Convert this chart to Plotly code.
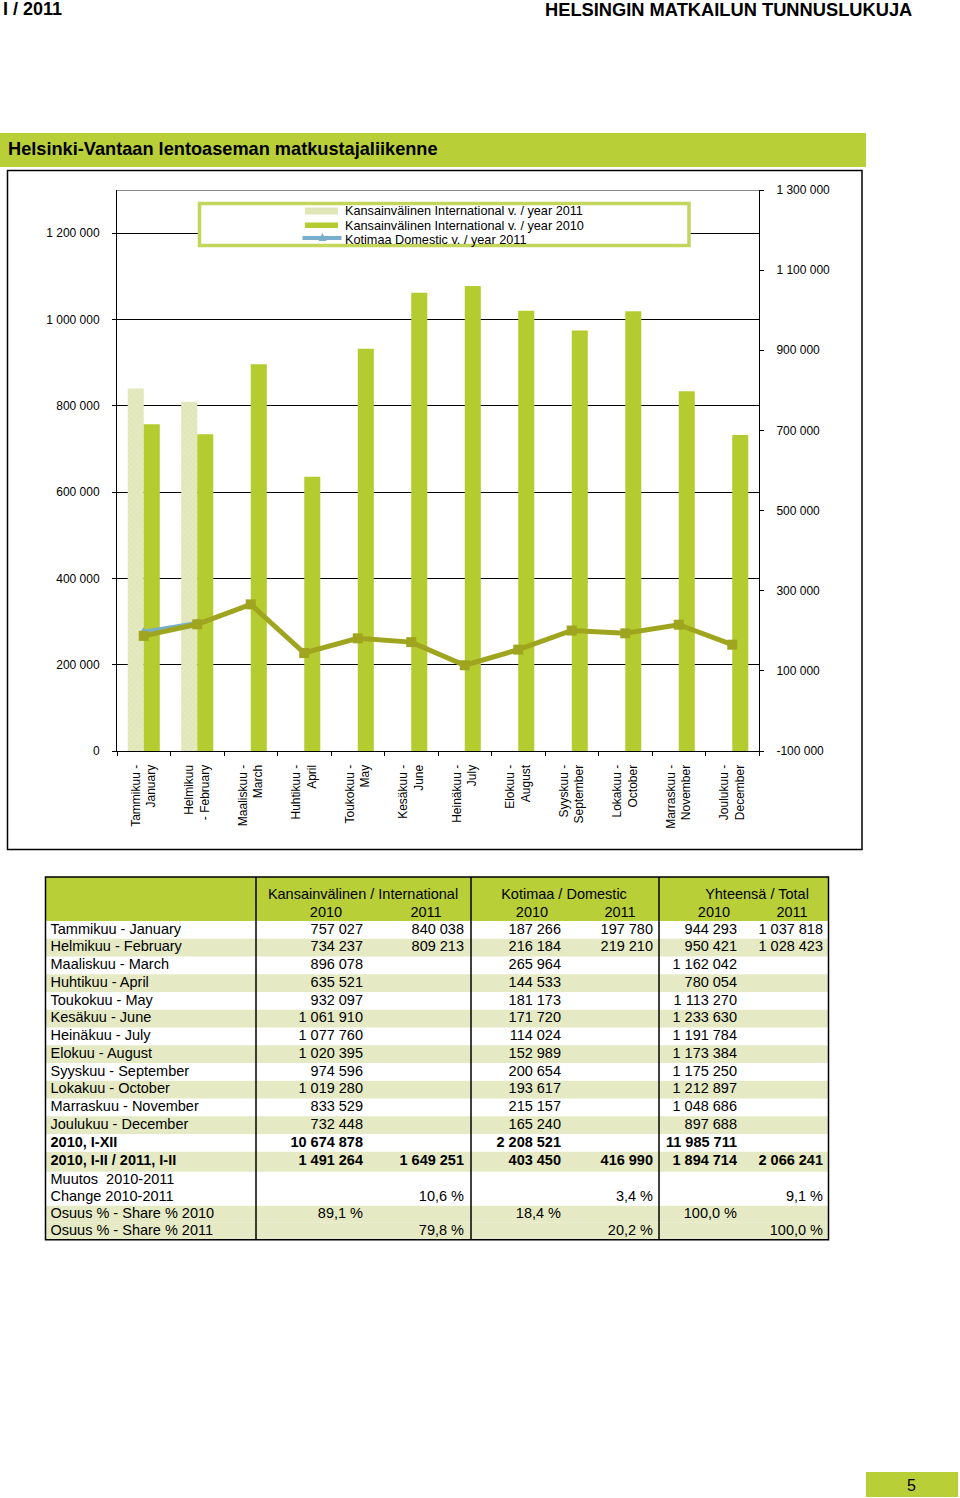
import plotly.graph_objects as go

W, H = 960, 1498

# ---------------- data ----------------
chart_labels = ["Tammikuu -<br>January", "Helmikuu<br>- February", "Maaliskuu -<br>March",
                "Huhtikuu -<br>April", "Toukokuu -<br>May", "Kesäkuu -<br>June",
                "Heinäkuu -<br>July", "Elokuu -<br>August", "Syyskuu -<br>September",
                "Lokakuu -<br>October", "Marraskuu -<br>November", "Joulukuu -<br>December"]
month_labels = ["Tammikuu - January", "Helmikuu - February", "Maaliskuu - March",
                "Huhtikuu - April", "Toukokuu - May", "Kesäkuu - June", "Heinäkuu - July",
                "Elokuu - August", "Syyskuu - September", "Lokakuu - October",
                "Marraskuu - November", "Joulukuu - December"]

intl_2010 = [757027, 734237, 896078, 635521, 932097, 1061910, 1077760, 1020395,
             974596, 1019280, 833529, 732448]
intl_2011 = [840038, 809213, None, None, None, None, None, None, None, None, None, None]
dom_2010 = [187266, 216184, 265964, 144533, 181173, 171720, 114024, 152989,
            200654, 193617, 215157, 165240]
dom_2011 = [197780, 219210, None, None, None, None, None, None, None, None, None, None]
tot_2010 = [944293, 950421, 1162042, 780054, 1113270, 1233630, 1191784, 1173384,
            1175250, 1212897, 1048686, 897688]
tot_2011 = [1037818, 1028423, None, None, None, None, None, None, None, None, None, None]

# summary rows: [intl 2010, intl 2011, dom 2010, dom 2011, tot 2010, tot 2011]
summary_labels = ["2010, I-XII", "2010, I-II / 2011, I-II", "Muutos  2010-2011",
                  "Change 2010-2011", "Osuus % - Share % 2010", "Osuus % - Share % 2011"]
year_total_2010 = [10674878, None, 2208521, None, 11985711, None]
jan_feb_totals = [1491264, 1649251, 403450, 416990, 1894714, 2066241]
muutos_row = [None, None, None, None, None, None]
change_pct = [None, 10.6, None, 3.4, None, 9.1]
share_2010 = [89.1, None, 18.4, None, 100.0, None]
share_2011 = [None, 79.8, None, 20.2, None, 100.0]

group_headers = ["Kansainvälinen / International", "Kotimaa / Domestic", "Yhteensä / Total"]
year_headers = ["2010", "2011", "2010", "2011", "2010", "2011"]

left_ticks = [0, 200000, 400000, 600000, 800000, 1000000, 1200000]
right_ticks = [-100000, 100000, 300000, 500000, 700000, 900000, 1100000, 1300000]

legend_labels = ["Kansainvälinen International v. / year 2011",
                 "Kansainvälinen International v. / year 2010",
                 "Kotimaa Domestic v. / year 2011"]

# ---------------- styles ----------------
FONT = "Arial, Liberation Sans, sans-serif"
GREEN = "#b4cc2f"
BAND = "#b8cf38"
PALE = "#e1e6b6"
OLIVE = "#9fa51e"
BLUE = "#78aecb"
SHADE = "#e5eac4"
LEGEND_BORDER = "#c3d55a"


def fx(p):
    return p / W


def fy(p):
    return 1 - p / H


def fmt_num(v):
    return "" if v is None else f"{v:,}".replace(",", " ")


def fmt_pct(v):
    return "" if v is None else f"{v:.1f}".replace(".", ",") + " %"


fig = go.Figure()

# ---------------- chart ----------------
fig.add_trace(go.Bar(x=chart_labels, y=intl_2011, name=legend_labels[0],
                     marker=dict(color=PALE, line=dict(width=0),
                                 pattern=dict(shape="x", size=4, solidity=0.25,
                                              fgcolor="#d2d99a", bgcolor="#e4e9c0")),
                     xaxis="x", yaxis="y", showlegend=False))
fig.add_trace(go.Bar(x=chart_labels, y=intl_2010, name=legend_labels[1],
                     marker=dict(color=GREEN, line=dict(width=0)),
                     xaxis="x", yaxis="y", showlegend=False))
fig.add_trace(go.Scatter(x=chart_labels, y=dom_2011, name=legend_labels[2], mode="lines+markers",
                         line=dict(color=BLUE, width=4),
                         marker=dict(symbol="triangle-up", size=9, color=BLUE),
                         xaxis="x", yaxis="y2", showlegend=False, cliponaxis=False))
fig.add_trace(go.Scatter(x=chart_labels, y=dom_2010, name="Kotimaa Domestic v. / year 2010",
                         mode="lines+markers",
                         line=dict(color=OLIVE, width=5),
                         marker=dict(symbol="square", size=10, color=OLIVE),
                         xaxis="x", yaxis="y2", showlegend=False, cliponaxis=False))

# ---------------- table ----------------
table_labels = month_labels + summary_labels
monthly_cols = [intl_2010, intl_2011, dom_2010, dom_2011, tot_2010, tot_2011]
table_cols = []
for c in range(6):
    col = [fmt_num(v) for v in monthly_cols[c]]
    col.append(fmt_num(year_total_2010[c]))
    col.append(fmt_num(jan_feb_totals[c]))
    col.append(fmt_pct(muutos_row[c]))
    col.append(fmt_pct(change_pct[c]))
    col.append(fmt_pct(share_2010[c]))
    col.append(fmt_pct(share_2011[c]))
    table_cols.append(col)

bold_rows = {12, 13}
shaded_rows = {1, 3, 5, 7, 9, 11, 13, 16, 17}
row_heights = [17.75] * 13 + [20, 17, 17, 17, 17]

T_LEFT, T_RIGHT, T_TOP, T_HEAD_BOTTOM = 45.5, 828.5, 877, 921.1
col_rights = [363, 464, 561, 653, 737, 823]
year_centers = [326, 426, 532, 620, 714, 792]
group_centers = [363, 564, 757]
vlines = [256, 471, 659]

row_tops = []
y = T_HEAD_BOTTOM
for h in row_heights:
    row_tops.append(y)
    y += h
T_BOTTOM = y
row_centers = [t + h / 2 for t, h in zip(row_tops, row_heights)]


def b(s, r):
    return f"<b>{s}</b>" if (r in bold_rows and s) else s


tfont = dict(family=FONT, size=14.5, color="#000000")
fig.add_trace(go.Scatter(x=[T_LEFT + 5] * len(table_labels), y=row_centers, mode="text",
                         text=[b(s, r) for r, s in enumerate(table_labels)],
                         textposition="middle right", textfont=tfont,
                         xaxis="x2", yaxis="y3", showlegend=False, hoverinfo="skip",
                         cliponaxis=False))
for c in range(6):
    fig.add_trace(go.Scatter(x=[col_rights[c]] * len(table_labels), y=row_centers, mode="text",
                             text=[b(s, r) for r, s in enumerate(table_cols[c])],
                             textposition="middle left", textfont=tfont,
                             xaxis="x2", yaxis="y3", showlegend=False, hoverinfo="skip",
                             cliponaxis=False))
fig.add_trace(go.Scatter(x=year_centers, y=[913] * 6, mode="text", text=year_headers,
                         textposition="middle center", textfont=tfont,
                         xaxis="x2", yaxis="y3", showlegend=False, hoverinfo="skip",
                         cliponaxis=False))
fig.add_trace(go.Scatter(x=group_centers, y=[895] * 3, mode="text", text=group_headers,
                         textposition="middle center", textfont=tfont,
                         xaxis="x2", yaxis="y3", showlegend=False, hoverinfo="skip",
                         cliponaxis=False))

shapes = []
# title band and chart frame
shapes.append(dict(type="rect", xref="paper", yref="paper", x0=fx(0), x1=fx(866), y0=fy(167),
                   y1=fy(133), fillcolor=BAND, line=dict(width=0), layer="below"))
shapes.append(dict(type="rect", xref="paper", yref="paper", x0=fx(7.5), x1=fx(862), y0=fy(849.5),
                   y1=fy(170.5), fillcolor="rgba(0,0,0,0)", line=dict(color="#000", width=1.5),
                   layer="below"))
shapes.append(dict(type="line", xref="paper", yref="paper", x0=fx(117), x1=fx(759), y0=fy(190.5),
                   y1=fy(190.5), line=dict(color="#8a8a8a", width=1), layer="above"))
# legend box
shapes.append(dict(type="rect", xref="paper", yref="paper", x0=fx(199.5), x1=fx(689), y0=fy(245.5),
                   y1=fy(203.5), fillcolor="white", line=dict(color=LEGEND_BORDER, width=3.5),
                   layer="above"))
shapes.append(dict(type="rect", xref="paper", yref="paper", x0=fx(305), x1=fx(338), y0=fy(214.5),
                   y1=fy(207.5), fillcolor=PALE, line=dict(width=0), layer="above"))
shapes.append(dict(type="rect", xref="paper", yref="paper", x0=fx(305), x1=fx(338), y0=fy(228),
                   y1=fy(222.5), fillcolor=GREEN, line=dict(width=0), layer="above"))
shapes.append(dict(type="line", xref="paper", yref="paper", x0=fx(302.5), x1=fx(341.5), y0=fy(238),
                   y1=fy(238), line=dict(color=BLUE, width=4), layer="above"))
shapes.append(dict(type="path", xref="paper", yref="paper",
                   path=f"M {fx(318.5)} {fy(241)} L {fx(326.5)} {fy(241)} L {fx(322.5)} {fy(233)} Z",
                   fillcolor=BLUE, line=dict(width=0), layer="above"))
# page number box
shapes.append(dict(type="rect", xref="paper", yref="paper", x0=fx(866), x1=fx(958), y0=fy(1497),
                   y1=fy(1472), fillcolor=BAND, line=dict(width=0), layer="below"))

# table fills and lines
shapes.append(dict(type="rect", xref="x2", yref="y3", x0=T_LEFT, x1=T_RIGHT, y0=T_TOP,
                   y1=T_HEAD_BOTTOM, fillcolor=BAND, line=dict(width=0), layer="below"))
for r in range(len(table_labels)):
    if r in shaded_rows:
        shapes.append(dict(type="rect", xref="x2", yref="y3", x0=T_LEFT, x1=T_RIGHT,
                           y0=row_tops[r], y1=row_tops[r] + row_heights[r], fillcolor=SHADE,
                           line=dict(width=0), layer="below"))
for vx in vlines:
    shapes.append(dict(type="line", xref="x2", yref="y3", x0=vx, x1=vx, y0=T_TOP, y1=T_BOTTOM,
                       line=dict(color="#000", width=1.5), layer="above"))
shapes.append(dict(type="rect", xref="x2", yref="y3", x0=T_LEFT, x1=T_RIGHT, y0=T_TOP,
                   y1=T_BOTTOM, fillcolor="rgba(0,0,0,0)", line=dict(color="#000", width=1.5),
                   layer="above"))

annotations = [
    dict(text="<b>I / 2011</b>", x=fx(2), y=fy(-2), xref="paper", yref="paper", xanchor="left",
         yanchor="top", showarrow=False, borderpad=0,
         font=dict(family=FONT, size=18, color="#000")),
    dict(text="<b>HELSINGIN MATKAILUN TUNNUSLUKUJA</b>", x=fx(913), y=fy(-2), xref="paper",
         yref="paper", xanchor="right", yanchor="top", showarrow=False, borderpad=0,
         font=dict(family=FONT, size=18.3, color="#000")),
    dict(text="<b>Helsinki-Vantaan lentoaseman matkustajaliikenne</b>", x=fx(6), y=fy(149),
         xref="paper", yref="paper", xanchor="left", yanchor="middle", showarrow=False,
         font=dict(family=FONT, size=18.2, color="#000")),
    dict(text="5", x=fx(911), y=fy(1485), xref="paper", yref="paper", xanchor="center",
         yanchor="middle", showarrow=False, font=dict(family=FONT, size=16, color="#000")),
]
for i, lab in enumerate(legend_labels):
    annotations.append(dict(text=lab, x=fx(343), y=fy([211, 225.5, 239.5][i]), xref="paper",
                            yref="paper", xanchor="left", yanchor="middle", showarrow=False,
                            font=dict(family=FONT, size=12.7, color="#000")))

axfont = dict(family=FONT, size=12, color="#000")
fig.update_layout(
    width=W, height=H, margin=dict(l=0, r=0, t=0, b=0, autoexpand=False),
    paper_bgcolor="white", plot_bgcolor="rgba(0,0,0,0)",
    barmode="group", bargap=0.4, bargroupgap=0,
    showlegend=False, font=dict(family=FONT, color="#000"),
    xaxis=dict(domain=[fx(117), fx(759)], type="category", anchor="y",
               range=[-0.5, len(chart_labels) - 0.5],
               showline=True, linecolor="#000", linewidth=1, ticks="outside", ticklen=4,
               tickcolor="#000", tickson="boundaries", tickangle=-90, tickfont=axfont,
               ticklabelstandoff=8, showgrid=False, fixedrange=True),
    yaxis=dict(domain=[fy(751), fy(190)], range=[0, 1300000], anchor="x",
               tickvals=left_ticks, ticktext=[fmt_num(v) for v in left_ticks],
               showgrid=True, gridcolor="#000", gridwidth=1, zeroline=False,
               showline=True, linecolor="#000", linewidth=1, ticks="outside", ticklen=4,
               tickcolor="#000", tickfont=axfont, ticklabelstandoff=10),
    yaxis2=dict(overlaying="y", side="right", anchor="x", range=[-100000, 1300000],
                tickvals=right_ticks, ticktext=[fmt_num(v) for v in right_ticks],
                showgrid=False, zeroline=False, showline=True, linecolor="#000", linewidth=1,
                ticks="outside", ticklen=4, tickcolor="#000", tickfont=axfont,
                ticklabelstandoff=10),
    xaxis2=dict(domain=[fx(40), fx(835)], range=[40, 835], anchor="y3", visible=False,
                fixedrange=True),
    yaxis3=dict(domain=[fy(1245), fy(870)], range=[1245, 870], anchor="x2", visible=False,
                fixedrange=True),
    shapes=shapes, annotations=annotations,
)

fig.write_html("out.html", config={"displayModeBar": False, "staticPlot": True},
               post_script="document.body.style.margin='0';document.body.style.padding='0';"
                           "document.documentElement.style.overflow='hidden';")
